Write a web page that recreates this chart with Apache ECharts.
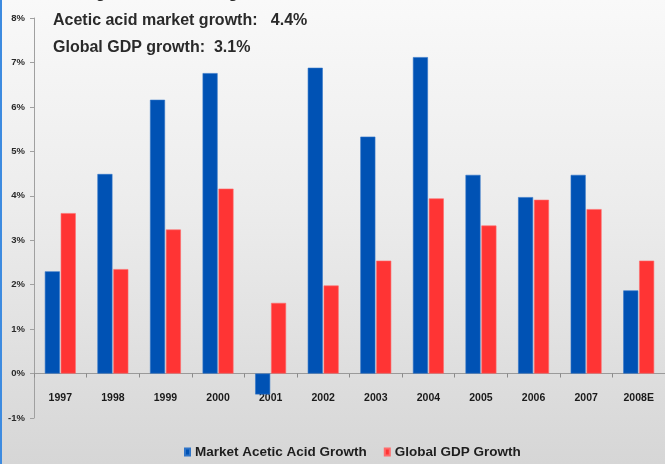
<!DOCTYPE html>
<html>
<head>
<meta charset="utf-8">
<script src="https://cdn.jsdelivr.net/npm/echarts@6/dist/echarts.min.js"></script>
<style>
  html, body { margin: 0; padding: 0; }
  #chart { width: 665px; height: 464px; }
</style>
</head>
<body>
<div id="chart"></div>
<script>
// Annual growth, percent
const years = ['1997', '1998', '1999', '2000', '2001', '2002', '2003', '2004', '2005', '2006', '2007', '2008E'];
const marketAceticAcidGrowth = [2.3, 4.49, 6.16, 6.76, -0.47, 6.88, 5.33, 7.12, 4.47, 3.97, 4.47, 1.87];
const globalGdpGrowth = [3.61, 2.35, 3.24, 4.16, 1.59, 1.98, 2.54, 3.94, 3.33, 3.91, 3.7, 2.54];
const headlineLines = [
  'CE organic acetic acid growth:   4.7%',
  'Acetic acid market growth:   4.4%',
  'Global GDP growth:  3.1%'
];

const sans = '"Liberation Sans", Arial, sans-serif';
const chart = echarts.init(document.getElementById('chart'));

chart.setOption({
  animation: false,
  backgroundColor: {
    type: 'linear', x: 0, y: 0, x2: 0, y2: 1,
    colorStops: [
      { offset: 0, color: '#f9f9f9' },
      { offset: 0.45, color: '#ececec' },
      { offset: 1, color: '#d6d6d6' }
    ]
  },
  graphic: [
    { type: 'rect', left: 0, top: 0, shape: { width: 2, height: 464 }, style: { fill: '#3d8be0' } },
    ...headlineLines.map((t, i) => ({
      type: 'text',
      left: 53,
      top: -14 + i * 27,
      style: { text: t, font: 'bold 16px "Liberation Sans", Arial, sans-serif', fill: '#2a2a2a' }
    }))
  ],
  legend: {
    bottom: 0,
    left: 179,
    itemWidth: 5,
    itemHeight: 7,
    itemGap: 17,
    icon: 'rect',
    textStyle: { fontFamily: sans, fontWeight: 'bold', fontSize: 13.5, color: '#1e1e1e', padding: [0, 0, 0, 0] },
    data: ['Market Acetic Acid Growth', 'Global GDP Growth']
  },
  grid: { left: 34, top: 18, width: 640, bottom: 46, containLabel: false },
  xAxis: {
    type: 'category',
    data: years,
    // axis sits on the 0% line (one unit above the -1% floor)
    offset: -44.5,
    axisLine: { onZero: false, lineStyle: { color: '#9a9a9a', width: 1 } },
    axisTick: { show: true, length: 4, lineStyle: { color: '#8a8a8a' } },
    axisLabel: { fontFamily: sans, fontWeight: 'bold', fontSize: 10.5, color: '#1a1a1a', margin: 19 }
  },
  yAxis: {
    type: 'value',
    min: -1,
    max: 8,
    interval: 1,
    splitLine: { show: false },
    axisLine: { show: true, lineStyle: { color: '#a0a0a0' } },
    axisTick: { show: true, length: 4, lineStyle: { color: '#a0a0a0' } },
    axisLabel: { fontFamily: sans, fontWeight: 'bold', fontSize: 9.5, color: '#2a2a2a', margin: 9, formatter: '{value}%' }
  },
  series: [
    {
      name: 'Market Acetic Acid Growth',
      type: 'bar',
      data: marketAceticAcidGrowth,
      barWidth: 15,
      barGap: '6%',
      itemStyle: { color: '#0052b4', borderColor: '#2f74c8', borderWidth: 0.6 }
    },
    {
      name: 'Global GDP Growth',
      type: 'bar',
      data: globalGdpGrowth,
      barWidth: 15,
      itemStyle: { color: '#ff3434', borderColor: '#ff6a6a', borderWidth: 0.6 }
    }
  ]
});
</script>
</body>
</html>
